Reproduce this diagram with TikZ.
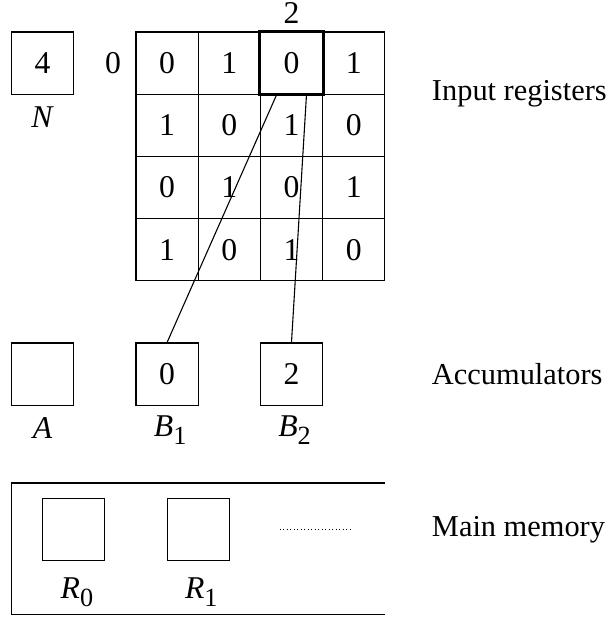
\documentclass[tikz,border=0pt]{standalone}
\usepackage{fontspec}
\setmainfont{Liberation Serif}
\usetikzlibrary{positioning}

\newcommand{\regsub}[2]{\textit{#1}\raisebox{-3.6pt}{\fontsize{12}{12}\selectfont #2}}

\tikzset{
  cell/.style={draw, minimum size=1cm, inner sep=0pt},
  lbl/.style={inner sep=0pt},
  caption/.style={lbl, anchor=west, font=\fontsize{13.9}{17}\selectfont},
}

\begin{document}
\begin{tikzpicture}[font=\fontsize{14.5}{17}\selectfont, line width=0.5pt]
  \useasboundingbox (-2.186,0.514) rectangle (7.605,-9.437);

  % input registers
  \foreach \row [count=\r] in {{0,1,0,1},{1,0,1,0},{0,1,0,1},{1,0,1,0}} {
    \foreach \v [count=\c] in \row {
      \node[cell] (c\r\c) at ({\c - 0.5}, {0.5 - \r}) {\v};
    }
  }
  \draw[line width=1.4pt] (c13.south west) rectangle (c13.north east);
  \node[lbl] (col) at (2.5,0.31) {2};
  \node[lbl] (rowidx) at (-0.37,-0.5) {0};

  \node[cell] (nreg) at (-1.5,-0.5) {4};
  \node[lbl] (nlbl) at (-1.5,-1.37) {\textit{N}};

  % accumulators
  \node[cell] (a) at (-1.5,-5.5) {};
  \node[cell] (b1) at (0.5,-5.5) {0};
  \node[cell] (b2) at (2.5,-5.5) {2};
  \node[lbl] (albl) at (-1.5,-6.37) {\textit{A}};
  \node[lbl] (b1lbl) at (0.55,-6.4) {\regsub{B}{1}};
  \node[lbl] (b2lbl) at (2.55,-6.4) {\regsub{B}{2}};

  \draw (b1.north) -- ([xshift=0.27cm]c13.south west);
  \draw (b2.north) -- ([xshift=0.75cm]c13.south west);

  % main memory
  \draw (4,-7.25) -| (-2,-9.37) -- (4,-9.37);
  \node[cell] (r0) at (-1,-8) {};
  \node[cell] (r1) at (1,-8) {};
  \node[lbl] (r0lbl) at (-0.95,-9) {\regsub{R}{0}};
  \node[lbl] (r1lbl) at (1.05,-9) {\regsub{R}{1}};
  \draw[line width=0.4pt, dash pattern=on 0.4pt off 1.2pt] (2.31,-8) -- (3.45,-8);

  % captions
  \node[caption] (inp) at (4.75,-1) {Input registers};
  \node[caption] (acc) at (4.75,-5.5) {Accumulators};
  \node[caption] (mem) at (4.75,-8) {Main memory};
\end{tikzpicture}
\end{document}
